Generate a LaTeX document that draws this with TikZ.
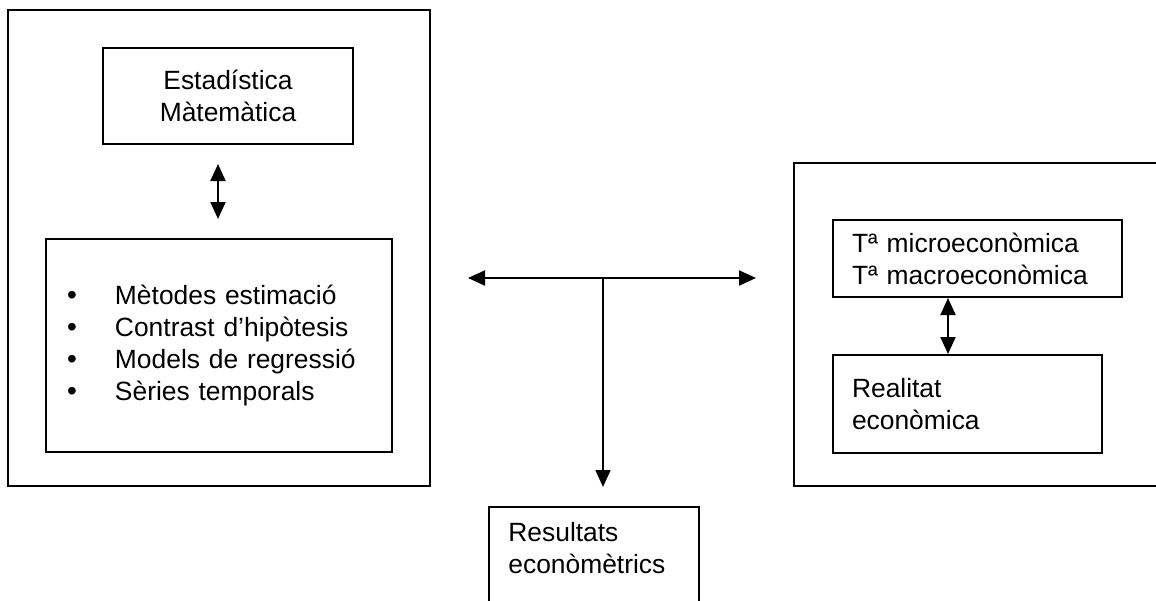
\documentclass[tikz,border=0pt]{standalone}
\usepackage{fontspec}
\setmainfont{Liberation Sans}
\usetikzlibrary{arrows.meta, positioning}

\newcommand{\itemdot}{\makebox[24pt][l]{{\fontsize{14}{16}\selectfont\textbullet}}}

\begin{document}
\begin{tikzpicture}[
            x=0.5pt, y=-0.5pt,
            every node/.style={font=\fontsize{13.2}{16}\selectfont},
            frame/.style={draw=black, line width=1pt, inner sep=0pt},
            box/.style={draw=black, line width=1pt, inner sep=0pt, align=left},
            dblarr/.style={{Triangle[length=8.5pt, width=7.5pt]}-{Triangle[length=8.5pt, width=7.5pt]}, line width=1pt},
            arr/.style={-{Triangle[length=8.5pt, width=7.5pt]}, line width=0.8pt}
        ]
            \useasboundingbox (0,0) rectangle (1156,600);

            % left block
            \node[frame, minimum width=211pt, minimum height=238pt] (statsframe) at (219,248) {};
            \node[box, align=center, minimum width=125pt, minimum height=48pt] (est) at (228,96) {Estadística\\Màtemàtica};
            \node[box, text width=152pt, inner xsep=10.5pt, minimum height=106.5pt] (bul) at (219,345.5)
                {\itemdot Mètodes estimació\\
                 \itemdot Contrast d’hipòtesis\\
                 \itemdot Models de regressió\\
                 \itemdot Sèries temporals};
            \coordinate (la) at (218,0);
            \draw[dblarr, shorten <=9.5pt, shorten >=9.5pt] (est.south -| la) -- (bul.north -| la);

            % right block
            \node[frame, minimum width=188pt, minimum height=161.5pt] (econframe) at (982,324.5) {};
            \node[box, text width=125.5pt, inner xsep=9.5pt, minimum height=38.5pt] (micro) at (977.5,258.5)
                {Tª microeconòmica\\Tª macroeconòmica};
            \node[box, text width=115.5pt, inner xsep=9.5pt, minimum height=49pt,
                below=28pt of micro.south west, anchor=north west] (real) {Realitat\\econòmica};
            \coordinate (ra) at (948,0);
            \draw[dblarr] (micro.south -| ra) -- (real.north -| ra);

            % results
            \node[frame, minimum width=105pt, minimum height=56.5pt] (res) at (594,563.5) {};
            \node[anchor=north west, inner sep=0pt, align=left] (restxt) at (508,522) {Resultats\\econòmètrics};

            \coordinate (hl) at (468,278);
            \coordinate (hr) at (756,278);
            \coordinate (tj) at (603,278);
            \draw[dblarr] (hl) -- (hr);
            \draw[arr, shorten >=9.5pt] (tj) -- (tj |- res.north);
        \end{tikzpicture}
\end{document}
